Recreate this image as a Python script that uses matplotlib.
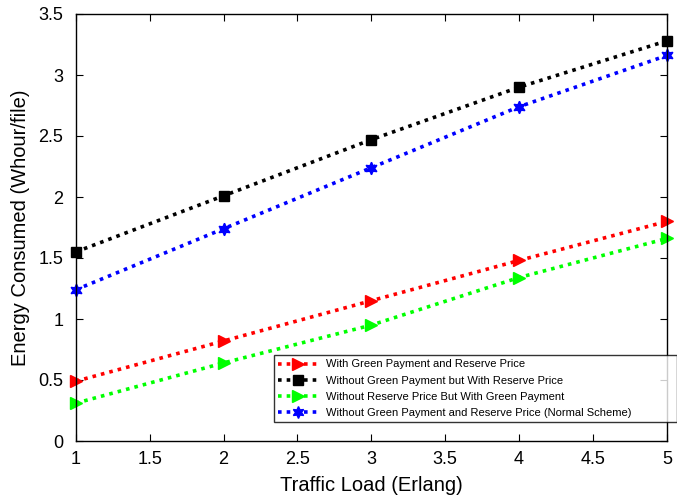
import matplotlib
matplotlib.use("Agg")
import matplotlib.pyplot as plt

plt.rcParams['font.family'] = ['Liberation Sans', 'DejaVu Sans']

traffic_load = [1, 2, 3, 4, 5]
green_reserve = [0.49, 0.82, 1.15, 1.48, 1.80]
no_green_reserve = [1.55, 2.01, 2.47, 2.90, 3.28]
reserve_only_green = [0.31, 0.64, 0.95, 1.34, 1.66]
normal_scheme = [1.24, 1.74, 2.24, 2.74, 3.16]

labels = ['With Green Payment and Reserve Price',
          'Without Green Payment but With Reserve Price',
          'Without Reserve Price But With Green Payment',
          'Without Green Payment and Reserve Price (Normal Scheme)']

fig = plt.figure(figsize=(6.77, 5), dpi=100)
ax = fig.add_axes([0.112, 0.118, 0.873, 0.854])

dots = (0, (1, 1.4))
ax.plot(traffic_load, green_reserve, color='red', ls=dots, lw=2.6,
        marker='>', ms=9, mfc='red', mec='red', label=labels[0], clip_on=False)
ax.plot(traffic_load, no_green_reserve, color='black', ls=dots, lw=2.6,
        marker='s', ms=7, mfc='black', mec='black', label=labels[1], clip_on=False)
ax.plot(traffic_load, reserve_only_green, color='#00ff00', ls=dots, lw=2.6,
        marker='>', ms=9, mfc='#00ff00', mec='#00ff00', label=labels[2], clip_on=False)
ax.plot(traffic_load, normal_scheme, color='blue', ls=dots, lw=2.6,
        marker=(6, 1, 0), ms=9, mfc='blue', mec='blue', label=labels[3], clip_on=False)

ax.set_xlim(1, 5)
ax.set_ylim(0, 3.5)
ax.set_xticks([1, 1.5, 2, 2.5, 3, 3.5, 4, 4.5, 5])
ax.set_xticklabels(['1', '1.5', '2', '2.5', '3', '3.5', '4', '4.5', '5'])
ax.set_yticks([0, 0.5, 1, 1.5, 2, 2.5, 3, 3.5])
ax.set_yticklabels(['0', '0.5', '1', '1.5', '2', '2.5', '3', '3.5'])
ax.tick_params(direction='in', top=True, right=True, labelsize=13, length=5)
ax.tick_params(axis='y', pad=9)
ax.tick_params(axis='x', pad=7)
for s in ax.spines.values():
    s.set_linewidth(1.0)

ax.set_xlabel('Traffic Load (Erlang)', fontsize=14.5, labelpad=6)
ax.set_ylabel('Energy Consumed (Whour/file)', fontsize=14.5, labelpad=6)

leg = ax.legend(loc='upper left',
                bbox_to_anchor=(274 / 677, 1 - 422 / 500, 403 / 677, 67 / 500),
                bbox_transform=fig.transFigure, mode='expand', fontsize=8,
                frameon=True, fancybox=False, edgecolor='black', borderpad=0.4,
                labelspacing=0.55, handlelength=3.6, handletextpad=0.7,
                borderaxespad=0, markerscale=0.95)
leg.get_frame().set_linewidth(1.0)

fig.savefig('out.png', dpi=100)
